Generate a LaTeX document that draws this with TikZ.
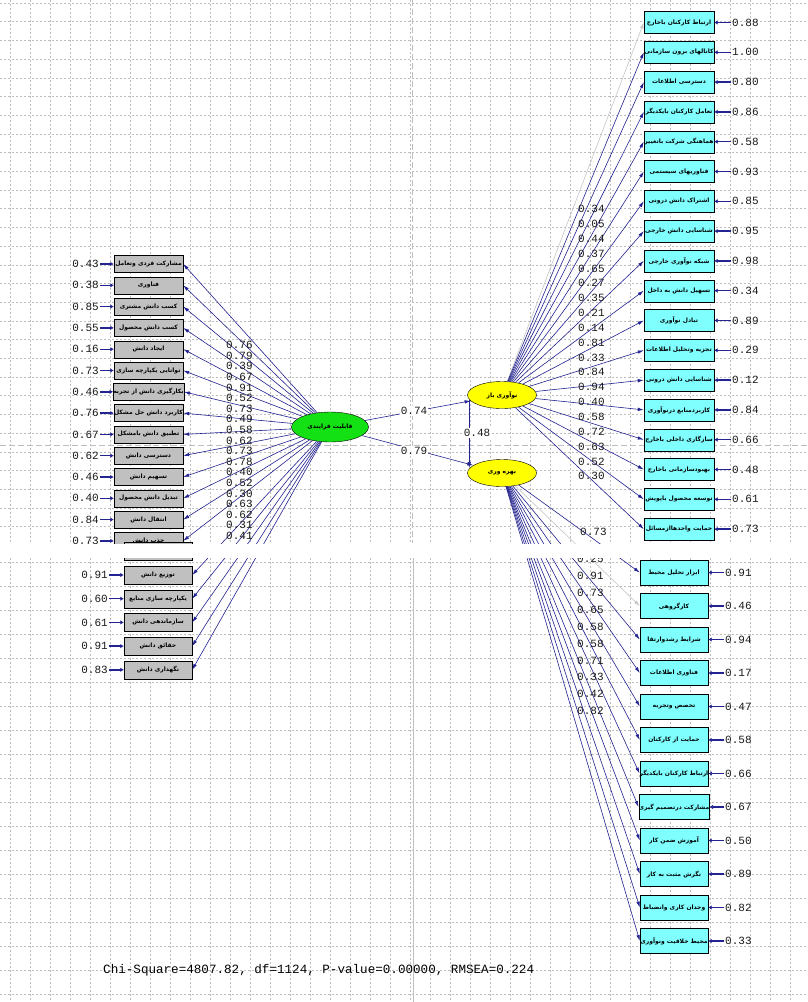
\documentclass[tikz,border=0pt]{standalone}
\usepackage{fontspec}
\usetikzlibrary{shapes.geometric, arrows.meta}
\TeXXeTstate=1
\newfontfamily\fafont[Script=Arabic]{DejaVu Sans}
\newfontfamily\lisrelfont{Liberation Mono}
\newcommand\fasmall{\fafont\bfseries\fontsize{6}{7}\selectfont}
\newcommand\numfont{\lisrelfont\fontsize{11}{12}\selectfont}
\definecolor{pathblue}{RGB}{35,35,145}
\definecolor{boxgray}{RGB}{192,192,192}
\definecolor{boxcyan}{RGB}{128,255,255}
\definecolor{latgreen}{RGB}{20,225,20}
\definecolor{latyellow}{RGB}{255,255,0}
\definecolor{gridgray}{RGB}{190,190,190}
\tikzset{
  lbox/.style={draw, fill=boxgray, minimum width=69pt, minimum height=17pt, inner sep=0pt, font=\fasmall},
  rbox/.style={draw, fill=boxcyan, minimum width=70pt, minimum height=22pt, inner sep=0pt, font=\fasmall},
  latent/.style={ellipse, draw, minimum width=69pt, minimum height=27pt, inner sep=0pt, font=\fasmall},
  load/.style={pathblue, line width=0.6pt, -{Latex[length=6pt, width=3.5pt]}},
  err/.style={pathblue, line width=1.4pt, shorten <=1pt, -{Latex[length=3.5pt, width=4.5pt]}},
  num/.style={font=\numfont, text=black!90, inner sep=0pt},
  minorgrid/.style={gridgray, line width=0.5pt, dash pattern=on 2pt off 2pt},
  majorgrid/.style={gridgray, line width=0.6pt, dash pattern=on 6pt off 3pt},
}
\begin{document}
\begin{tikzpicture}[x=1pt, y=-1pt]
    \useasboundingbox (0,0) rectangle (807,1002);
    \fill[white] (0,0) rectangle (807,1002);

    % Grid, upper and lower part
    \foreach \x in {10,30,...,800} \draw[minorgrid] (\x,0) -- (\x,543);
    \foreach \y in {3,21.7,...,540} \draw[minorgrid] (0,\y) -- (807,\y);
    \foreach \x in {10,30,...,800} \draw[minorgrid] (\x,558) -- (\x,1002);
    \foreach \y in {562,586,...,1000} \draw[minorgrid] (0,\y) -- (807,\y);
    \draw[majorgrid] (0,445) -- (807,445);
    \draw[majorgrid] (412,0) -- (412,543);
    \draw[gridgray, line width=0.6pt] (413,558) -- (413,1002);

    % Latent variables
    \node[latent, fill=latgreen, minimum width=77pt, minimum height=30pt] (proc) at (330,427) {\beginR قابلیت فرایندی\endR};
    \node[latent, fill=latyellow] (open) at (502,395) {\beginR نوآوری باز\endR};
    \node[latent, fill=latyellow] (prod) at (502,473) {\beginR بهره وری\endR};

    % Structural paths
    \draw[load] (proc) -- (open);
    \draw[load] (proc) -- (prod);
    \draw[load] ([shift={(2,5)}]open.west) -- ([shift={(2,-5)}]prod.west);
    \node[num, fill=white, inner sep=1pt] (g1) at (414,411) {0.74};
    \node[num, fill=white, inner sep=1pt] (g2) at (414,451) {0.79};
    \node[num, fill=white, inner sep=1pt] (b1) at (477,433) {0.48};

    % Left indicators (upper part)
    \foreach \lab/\e [count=\i] in {مشارکت فردی وتعامل/0.43, فناوری/0.38, کسب دانش مشتری/0.85, کسب دانش محصول/0.55, ایجاد دانش/0.16, توانایی یکپارچه سازی/0.73, بکارگیری دانش از تجربه/0.46, کاربرد دانش حل مشکل/0.76, تطبیق دانش بامشکل/0.67, دسترسی دانش/0.62, تسهیم دانش/0.46, تبدیل دانش محصول/0.40, انتقال دانش/0.84, جذب دانش/0.73} {
        \node[lbox] (l\i) at (148.5,{264+21.3*(\i-1)}) {\beginR\lab\endR};
        \node[num, anchor=east] (le\i) at (99,{264+21.3*(\i-1)}) {\e};
        \draw[err] (le\i) -- (l\i);
        \draw[load] (proc) -- (l\i.east);
    }
    \node[lbox, minimum width=68pt, minimum height=18pt] (l15) at (158,551) {};

    % Left indicators (lower part)
    \foreach \lab/\e [count=\i] in {توزیع دانش/0.91, یکپارچه سازی منابع/0.60, سازماندهی دانش/0.61, حقائق دانش/0.91, نگهداری دانش/0.83} {
        \node[lbox, minimum width=68pt, minimum height=18pt] (lb\i) at (158,{575+23.7*(\i-1)}) {\beginR\lab\endR};
        \node[num, anchor=east] (lbe\i) at (108,{575+23.7*(\i-1)}) {\e};
        \draw[err] (lbe\i) -- (lb\i);
        \draw[load] (proc) -- (lb\i.east);
    }
    \foreach \v [count=\k] in {0.76,0.79,0.39,0.67,0.91,0.52,0.73,0.49,0.58,0.62,0.73,0.78,0.40,0.52,0.30,0.63,0.62,0.31,0.41}
        \node[num, anchor=west] (ll\k) at (226,{345+10.6*(\k-1)}) {\v};

    % Right indicators of open innovation
    \foreach \lab/\e [count=\i] in {ارتباط کارکنان باخارج/0.88, کانالهای برون سازمانی/1.00, دسترسی اطلاعات/0.80, تعامل کارکنان بایکدیگر/0.86, هماهنگی شرکت باتغییر/0.58, فناوریهای سیستمی/0.93, اشتراک دانش درونی/0.85, شناسایی دانش خارجی/0.95, شبکه نوآوری خارجی/0.98, تسهیل دانش به داخل/0.34, تبادل نوآوری/0.89, تجزیه وتحلیل اطلاعات/0.29, شناسایی دانش درونی/0.12, کاربردمنابع درنوآوری/0.84, سازگاری داخلی باخارج/0.66, بهبودسازمانی باخارج/0.48, توسعه محصول باپویش/0.61, حمایت واحدهاازمسائل/0.73} {
        \node[rbox] (rt\i) at (679,{22.5+29.8*(\i-1)}) {\beginR\lab\endR};
        \node[num, anchor=west] (rte\i) at (732,{22.5+29.8*(\i-1)}) {\e};
        \draw[err] (rte\i) -- (rt\i);
    }
    \draw[load, gray!45] (open) -- (rt1.west);
    \foreach \i in {2,...,18} \draw[load] (open) -- (rt\i.west);
    \foreach \v [count=\k] in {0.34,0.05,0.44,0.37,0.65,0.27,0.35,0.21,0.14,0.81,0.33,0.84,0.94,0.40,0.58,0.72,0.63,0.52,0.30}
        \node[num, anchor=west] (rl\k) at (578,{209+14.85*(\k-1)}) {\v};

    % Right indicators of productivity
    \foreach \lab/\e [count=\i] in {ابزار تحلیل محیط/0.91, کارگروهی/0.46, شرایط رشدوارتقا/0.94, فناوری اطلاعات/0.17, تخصص وتجربه/0.47, حمایت از کارکنان/0.58, ارتباط کارکنان بایکدیگر/0.66, مشارکت درتصمیم گیری/0.67, آموزش ضمن کار/0.50, نگرش مثبت به کار/0.89, وجدان کاری وانضباط/0.82, محیط خلاقیت ونوآوری/0.33} {
        \node[rbox, minimum width=68pt, minimum height=25pt] (rb\i) at (674,{572.5+33.5*(\i-1)}) {\beginR\lab\endR};
        \node[num, anchor=west] (rbe\i) at (725,{572.5+33.5*(\i-1)}) {\e};
        \draw[err] (rbe\i) -- (rb\i);
    }
    \draw[load] (prod) -- (rb1.west);
    \draw[load, gray!45] (prod) -- (rb2.west);
    \foreach \i in {3,...,12} \draw[load] (prod) -- (rb\i.west);
    \node[num, anchor=west] (rbl0) at (580,532) {0.73};
    \foreach \v [count=\k] in {0.25,0.91,0.73,0.65,0.58,0.58,0.71,0.33,0.42,0.82}
        \node[num, anchor=west] (rbl\k) at (577,{559+16.9*(\k-1)}) {\v};

    % Seam between the two screens
    \fill[white] (0,543.5) rectangle (807,557.5);

    % Fit statistics
    \node[anchor=west, font=\lisrelfont\fontsize{12.6}{14}\selectfont, inner sep=0pt] (fit) at (103,970) {Chi-Square=4807.82, df=1124, P-value=0.00000, RMSEA=0.224};
\end{tikzpicture}
\end{document}
